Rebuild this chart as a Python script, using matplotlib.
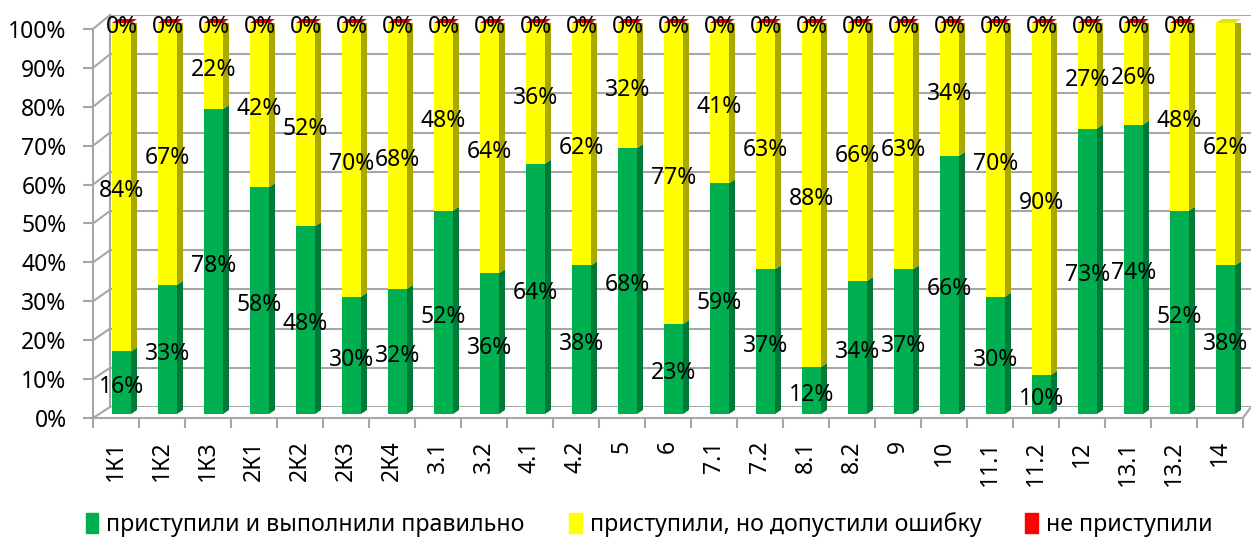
import numpy as np
import matplotlib
matplotlib.use('Agg')
import matplotlib.pyplot as plt
from matplotlib.patches import Patch, Polygon
from matplotlib.lines import Line2D
from matplotlib.transforms import IdentityTransform

plt.rcParams['font.family'] = ['Noto Sans', 'DejaVu Sans']

categories = ['1К1', '1К2', '1К3', '2К1', '2К2', '2К3', '2К4', '3.1', '3.2', '4.1',
              '4.2', '5', '6', '7.1', '7.2', '8.1', '8.2', '9', '10', '11.1',
              '11.2', '12', '13.1', '13.2', '14']
correct = [16, 33, 78, 58, 48, 30, 32, 52, 36, 64, 38, 68, 23, 59, 37, 12, 34, 37,
           66, 30, 10, 73, 74, 52, 38]
mistake = [84, 67, 22, 42, 52, 70, 68, 48, 64, 36, 62, 32, 77, 41, 63, 88, 66, 63,
           34, 70, 90, 27, 26, 48, 62]
skipped = [0] * 24 + [None]

series_names = ['приступили и выполнили правильно',
                'приступили, но допустили ошибку',
                'не приступили']
front_colors = ['#00B050', '#FFFF00', '#FF0000']
side_colors = ['#007A38', '#A8A800', '#A00000']
top_colors = ['#00C85A', '#E6E600', '#E00000']

W, H = 1251, 539
fig = plt.figure(figsize=(W / 100, H / 100), dpi=100)


def box(left, right, top, bottom):
    return [left / W, 1 - bottom / H, (right - left) / W, (bottom - top) / H]


grid_col = '#A6A6A6'
yticks = np.arange(0, 101, 10)

# back wall with gridlines
ax_back = fig.add_axes(box(110, 1251, 15, 407))
ax_back.set_xlim(0, 1)
ax_back.set_ylim(0, 100)
ax_back.set_yticks(yticks)
ax_back.set_xticks([])
ax_back.tick_params(left=False, labelleft=False)
ax_back.grid(axis='y', color=grid_col, lw=1.5)
for s in ['top', 'right', 'bottom']:
    ax_back.spines[s].set_visible(False)
ax_back.spines['left'].set_color(grid_col)
ax_back.spines['left'].set_linewidth(1.5)
ax_back.patch.set_alpha(0)

# front frame: axis labels and ticks
n = len(categories)
x = np.arange(n)
ax = fig.add_axes(box(93, 1243, 29, 418))
ax.set_xlim(-0.5, n - 0.5)
ax.set_ylim(0, 100)
ax.patch.set_alpha(0)
ax.set_yticks(yticks)
ax.set_yticklabels([f'{v}%' for v in yticks], fontsize=16.5)
ax.set_xticks(x)
ax.set_xticklabels(categories, rotation=90, fontsize=16.5)
ax.set_xticks(np.arange(n + 1) - 0.5, minor=True)
ax.tick_params(axis='x', which='major', length=0, pad=16)
ax.tick_params(axis='x', which='minor', length=7, width=1.5, color=grid_col)
ax.tick_params(axis='y', length=7, width=1.5, color=grid_col, pad=12)
for s in ['top', 'right']:
    ax.spines[s].set_visible(False)
for s in ['left', 'bottom']:
    ax.spines[s].set_color(grid_col)
    ax.spines[s].set_linewidth(1.5)

# left wall and floor edges joining front frame to back wall
for v in yticks:
    p1 = ax.transData.transform((-0.5, v))
    p2 = ax_back.transData.transform((0, v))
    fig.add_artist(Line2D([p1[0], p2[0]], [p1[1], p2[1]], color=grid_col, lw=1.5,
                          transform=IdentityTransform(), zorder=0.5))
p1 = ax.transData.transform((n - 0.5, 0))
p2 = ax_back.transData.transform((1, 0))
fig.add_artist(Line2D([p1[0], p2[0]], [p1[1], p2[1]], color=grid_col, lw=1.5,
                      transform=IdentityTransform(), zorder=0.5))

# bars
ax_bar = fig.add_axes(box(93, 1243, 23, 414))
ax_bar.set_zorder(3)
shift = 5.5 / 46
ax_bar.set_xlim(-0.5 - shift, n - 0.5 - shift)
ax_bar.set_ylim(0, 100)
ax_bar.axis('off')

bar_w = 19 / 46
dx = 6 / 46
dy = 4 / 3.91

data = [correct, mistake, skipped]
bottom = np.zeros(n)
top_series = [None] * n
for k, vals in enumerate(data):
    for i in range(n):
        v = vals[i]
        if v is None:
            continue
        b = bottom[i]
        x0, x1 = x[i] - bar_w / 2, x[i] + bar_w / 2
        if v > 0:
            ax_bar.bar(x[i], v, width=bar_w, bottom=b, color=front_colors[k], lw=0)
            ax_bar.add_patch(Polygon([(x1, b), (x1 + dx, b + dy), (x1 + dx, b + v + dy), (x1, b + v)],
                                     closed=True, color=side_colors[k], lw=0))
        ax_bar.annotate(f'{v}%', (x[i], b + v / 2), xytext=(0, -3), textcoords='offset points',
                        ha='center', va='center', fontsize=16.5, annotation_clip=False)
        bottom[i] = b + v
        top_series[i] = k

for i in range(n):
    k = top_series[i]
    t = bottom[i]
    x0, x1 = x[i] - bar_w / 2, x[i] + bar_w / 2
    ax_bar.add_patch(Polygon([(x0, t), (x1, t), (x1 + dx, t + dy), (x0 + dx, t + dy)],
                             closed=True, color=top_colors[k], lw=0, clip_on=False))

handles = [Patch(color=c) for c in front_colors]
fig.legend(handles, series_names, loc='lower center', bbox_to_anchor=(0.519, -0.035),
           ncol=3, frameon=False, fontsize=16.7, handlelength=0.55, handleheight=1.0,
           handletextpad=0.35, columnspacing=1.9)

fig.savefig('out.png', dpi=100)
